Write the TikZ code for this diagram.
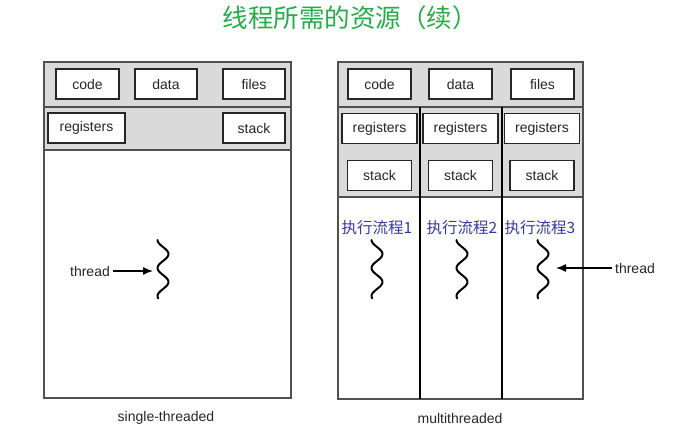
\documentclass[tikz,border=0pt]{standalone}
\usepackage{fontspec}
\setmainfont{Liberation Sans}
\newfontfamily\cjk{Noto Sans CJK SC}
\usetikzlibrary{arrows.meta}

\definecolor{titlegreen}{RGB}{38,172,72}
\definecolor{flowblue}{RGB}{55,55,160}
\definecolor{segbg}{RGB}{218,218,218}
\definecolor{framegray}{RGB}{80,80,80}

\tikzset{
  seg/.style={draw=black!85, line width=1.4pt, fill=white, inner sep=0pt,
    minimum height=30, font=\fontsize{14}{16}\selectfont, text=black!85},
  lbl/.style={font=\fontsize{14}{16}\selectfont, text=black!85},
  flow/.style={font=\cjk\fontsize{15.5}{18}\selectfont, text=flowblue},
  frame/.style={draw=framegray, line width=1.5pt},
  wiggle/.style={line width=2pt, line cap=round, smooth, samples=60},
}

% vertical wavy thread: #1 = x of axis, #2 = top y
\newcommand{\wavythread}[2]{%
  \draw[wiggle, domain=-90:660] plot ({#1+5.5*sin(\x)}, {#2+(\x+90)/360*28});}

\begin{document}
\begin{tikzpicture}[x=1pt, y=-1pt, >={Latex[length=10pt, width=8pt]}]
    \useasboundingbox (0,0) rectangle (683,429);

    % --- TITLE ---
    \node[font=\cjk\fontsize{25.5}{30}\selectfont, text=titlegreen] (title) at (350,18) {线程所需的资源（续）};

    % =========================================
    % SINGLE-THREADED (Left)
    % =========================================
    \fill[segbg] (44,62) rectangle (291,150);
    \draw[frame] (44,62) rectangle (291,398);
    \draw[frame] (44,107) -- (291,107);
    \draw[frame] (44,150) -- (291,150);

    % Shared parts
    \node[seg, minimum width=63] (scode) at (87.5,84) {code};
    \node[seg, minimum width=62] (sdata) at (166,84) {data};
    \node[seg, minimum width=62] (sfiles) at (254,84) {files};

    % Private parts
    \node[seg, minimum width=77] (sregs) at (86.5,128) {registers};
    \node[seg, minimum width=62] (sstack) at (254,128) {stack};

    % Thread
    \wavythread{163}{240}
    \node[lbl] (sthread) at (90,271) {thread};
    \coordinate (stip) at (153,271);
    \draw[->, line width=1.4pt] (sthread.east) -- (stip);

    \node[lbl] (single) at (166,418) {single-threaded};

    % =========================================
    % MULTITHREADED (Right)
    % =========================================
    \fill[segbg] (338,62) rectangle (583,197);
    \draw[frame] (338,62) rectangle (583,399);
    \draw[frame] (338,107) -- (583,107);
    \draw[frame] (338,197) -- (583,197);
    \foreach \cx in {420, 502} {
        \draw[line width=1.5pt] (\cx,107) -- (\cx,399);
    }

    % Shared parts
    \node[seg, minimum width=63] (mcode) at (379.5,84) {code};
    \node[seg, minimum width=63] (mdata) at (460.5,84) {data};
    \node[seg, minimum width=63] (mfiles) at (542.5,84) {files};

    % Private parts per thread
    \foreach \i/\cx/\fx/\wx in {1/379.5/377/377, 2/460.5/462/462, 3/542/540/543} {
        \node[seg, minimum width=75] (mregs\i) at (\cx,128.5) {registers};
        \node[seg, minimum width=64] (mstack\i) at (\cx,175.5) {stack};
        \node[flow] (mflow\i) at (\fx,228) {执行流程\i};
        \wavythread{\wx}{240}
    }

    % Thread pointer
    \node[lbl] (mthread) at (635,268) {thread};
    \coordinate (mtip) at (556,268);
    \draw[->, line width=1.4pt] (mthread.west) -- (mtip);

    \node[lbl] (multi) at (460,418) {multithreaded};

\end{tikzpicture}
\end{document}
